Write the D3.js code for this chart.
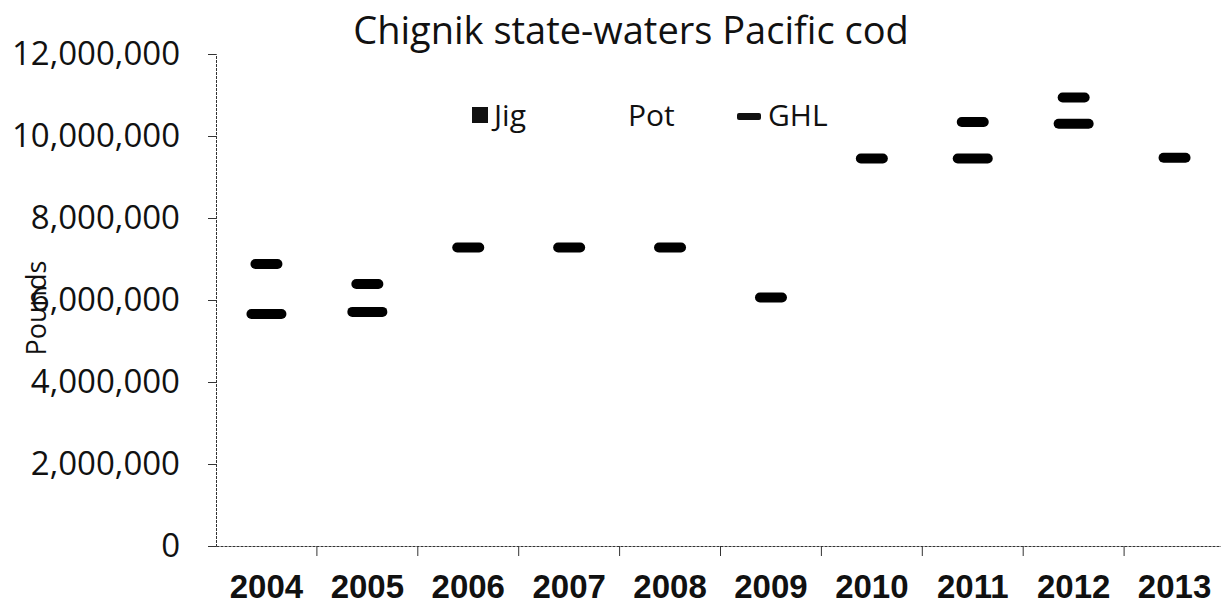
<!DOCTYPE html>
<html>
<head>
<meta charset="utf-8">
<script src="https://cdn.jsdelivr.net/npm/d3@7"></script>
<style>
  body { margin: 0; background: #fff; }
  text { font-family: "Open Sans", sans-serif; fill: #111; }
</style>
</head>
<body>
<div id="chart"></div>
<script>
// chart values
var years = ["2004", "2005", "2006", "2007", "2008", "2009", "2010", "2011", "2012", "2013"];
// GHL markers (narrow dashes)
var ghl = [6880000, 6390000, 7280000, 7280000, 7280000, 6060000, 9450000, 10340000, 10940000, 9470000];
// second set of dashes (wider), only some years
var ghlLow = [5660000, 5710000, null, null, null, null, null, 9450000, 10300000, null];
var yTicks = [0, 2000000, 4000000, 6000000, 8000000, 10000000, 12000000];
var legendItems = ["Jig", "Pot", "GHL"];

var width = 1221, height = 613;
var plot = { left: 216, right: 1225, top: 54, bottom: 546 };

var svg = d3.select("#chart").append("svg")
      .attr("width", width)
      .attr("height", height);

var x = d3.scaleBand()
      .domain(years)
      .range([plot.left, plot.right])
      .paddingInner(0);

var y = d3.scaleLinear()
      .domain([0, 12000000])
      .range([plot.bottom, plot.top]);

// title
svg.append("text")
      .attr("x", 631)
      .attr("y", 44)
      .attr("text-anchor", "middle")
      .style("font-size", "38px")
      .text("Chignik state-waters Pacific cod");

// Y axis
var yAxis = svg.append("g")
      .attr("transform", "translate(" + plot.left + ",0)")
      .call(d3.axisLeft(y)
        .tickValues(yTicks)
        .tickSize(8)
        .tickPadding(28)
        .tickFormat(d3.format(",")));
yAxis.selectAll("text").style("font-size", "33px").attr("fill", "#111");
yAxis.select(".domain").attr("stroke", "#333").attr("stroke-dasharray", "3,1");
yAxis.selectAll(".tick line").attr("stroke", "#333");

// X axis - labels centered, ticks on category boundaries
var xAxis = svg.append("g")
      .attr("transform", "translate(0," + plot.bottom + ")")
      .call(d3.axisBottom(x).tickSize(0).tickPadding(29));
xAxis.selectAll("text")
      .style("font-family", "'Liberation Sans Narrow', sans-serif")
      .style("font-weight", "bold")
      .style("font-size", "33px")
      .attr("fill", "#111");
xAxis.select(".domain").attr("stroke", "#333").attr("stroke-dasharray", "3,1");

var bounds = years.map(d => x(d)).concat([plot.right]);
xAxis.selectAll(".bound")
      .data(bounds.slice(1, -1))
      .enter()
      .append("line")
      .attr("class", "bound")
      .attr("x1", d => d).attr("x2", d => d)
      .attr("y1", 0).attr("y2", 10)
      .attr("stroke", "#333");

// Y axis title
svg.append("text")
      .attr("transform", "translate(46,308) rotate(-90)")
      .attr("text-anchor", "middle")
      .style("font-size", "27px")
      .text("Pounds");

// dash markers
function drawDashes(values, w, cls) {
      var pts = years.map((d, i) => ({ year: d, v: values[i] })).filter(d => d.v != null);
      svg.append("g")
        .selectAll("rect." + cls)
        .data(pts)
        .enter()
        .append("rect")
        .attr("class", cls)
        .attr("x", d => x(d.year) + x.bandwidth() / 2 - w / 2)
        .attr("y", d => y(d.v) - 5)
        .attr("width", w)
        .attr("height", 10)
        .attr("rx", 5)
        .style("fill", "#000");
}
drawDashes(ghlLow, 40, "low");
drawDashes(ghl, 32, "ghl");

// legend
var lg = svg.append("g");
lg.append("rect").attr("x", 472).attr("y", 107).attr("width", 16).attr("height", 16).style("fill", "#111");
lg.append("text").attr("x", 494).attr("y", 126).style("font-size", "30px").text(legendItems[0]);
lg.append("text").attr("x", 628).attr("y", 126).style("font-size", "30px").text(legendItems[1]);
lg.append("rect").attr("x", 737).attr("y", 113).attr("width", 24).attr("height", 7).attr("rx", 2).style("fill", "#111");
lg.append("text").attr("x", 768).attr("y", 126).style("font-size", "30px").text(legendItems[2]);
</script>
</body>
</html>
